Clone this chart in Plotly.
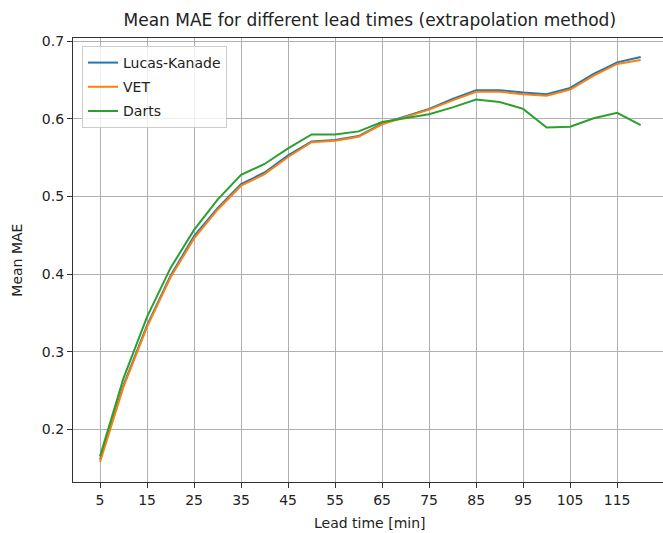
import plotly.graph_objects as go

lead_times = [5, 10, 15, 20, 25, 30, 35, 40, 45, 50, 55, 60, 65, 70, 75, 80,
              85, 90, 95, 100, 105, 110, 115, 120]
lucas_kanade = [0.161, 0.257, 0.334, 0.398, 0.449, 0.485, 0.516, 0.531, 0.553,
                0.571, 0.573, 0.578, 0.594, 0.603, 0.613, 0.626, 0.637, 0.637,
                0.634, 0.632, 0.640, 0.658, 0.673, 0.680]
vet = [0.158, 0.255, 0.332, 0.396, 0.446, 0.483, 0.514, 0.529, 0.551, 0.570,
       0.572, 0.577, 0.593, 0.602, 0.612, 0.624, 0.635, 0.635, 0.632, 0.630,
       0.638, 0.656, 0.671, 0.676]
darts = [0.165, 0.266, 0.345, 0.408, 0.457, 0.496, 0.528, 0.542, 0.562, 0.580,
         0.580, 0.584, 0.596, 0.601, 0.606, 0.615, 0.625, 0.622, 0.613, 0.589,
         0.590, 0.601, 0.608, 0.592]
x_ticks = [5, 15, 25, 35, 45, 55, 65, 75, 85, 95, 105, 115]
y_ticks = [0.2, 0.3, 0.4, 0.5, 0.6, 0.7]

series = [("Lucas-Kanade", lucas_kanade, "#1f77b4"),
          ("VET", vet, "#ff7f0e"),
          ("Darts", darts, "#2ca02c")]

FONT = "DejaVu Sans"
fig = go.Figure()
for name, vals, color in series:
    fig.add_trace(go.Scatter(x=lead_times, y=vals, mode="lines", name=name,
                             legendgroup=name,
                             line=dict(color=color, width=2)))

axis_common = dict(showgrid=True, gridcolor="#b0b0b0", gridwidth=1,
                   showline=True, linecolor="#333333", linewidth=1.2,
                   ticks="outside", ticklen=5, tickwidth=1, tickcolor="#333333",
                   tickfont=dict(family=FONT, size=14, color="#222222"),
                   zeroline=False)

fig.update_layout(
    width=663, height=533,
    margin=dict(l=73, r=0, t=38, b=51),
    plot_bgcolor="white", paper_bgcolor="white",
    font=dict(family=FONT, color="#222222"),
    title=dict(text="Mean MAE for different lead times (extrapolation method)",
               font=dict(family=FONT, size=17, color="#222222"),
               x=0.503, xref="paper", xanchor="center",
               y=1 - 20 / 533, yref="container", yanchor="middle"),
    xaxis=dict(range=[-0.75, 124.75], tickvals=x_ticks,
               ticktext=[str(t) for t in x_ticks], mirror=True, **axis_common),
    yaxis=dict(range=[0.132, 0.7044], tickvals=y_ticks,
               ticktext=[f"{t:.1f}" for t in y_ticks], **axis_common),
    legend=dict(x=0.0153, y=0.982, xanchor="left", yanchor="top",
                bgcolor="rgba(255,255,255,0.8)", bordercolor="#cccccc",
                borderwidth=1, tracegroupgap=3,
                font=dict(family=FONT, size=14, color="#222222")),
    showlegend=True,
    annotations=[
        dict(text="Lead time [min]", xref="paper", yref="paper",
             x=0.503, y=-0.093, xanchor="center", yanchor="middle",
             showarrow=False, font=dict(family=FONT, size=14, color="#222222")),
        dict(text="Mean MAE", xref="paper", yref="paper",
             x=(16.7 - 73) / 590, y=0.5, xanchor="center", yanchor="middle",
             textangle=-90, showarrow=False,
             font=dict(family=FONT, size=14, color="#222222")),
    ],
)

fig.write_html("out.html")
